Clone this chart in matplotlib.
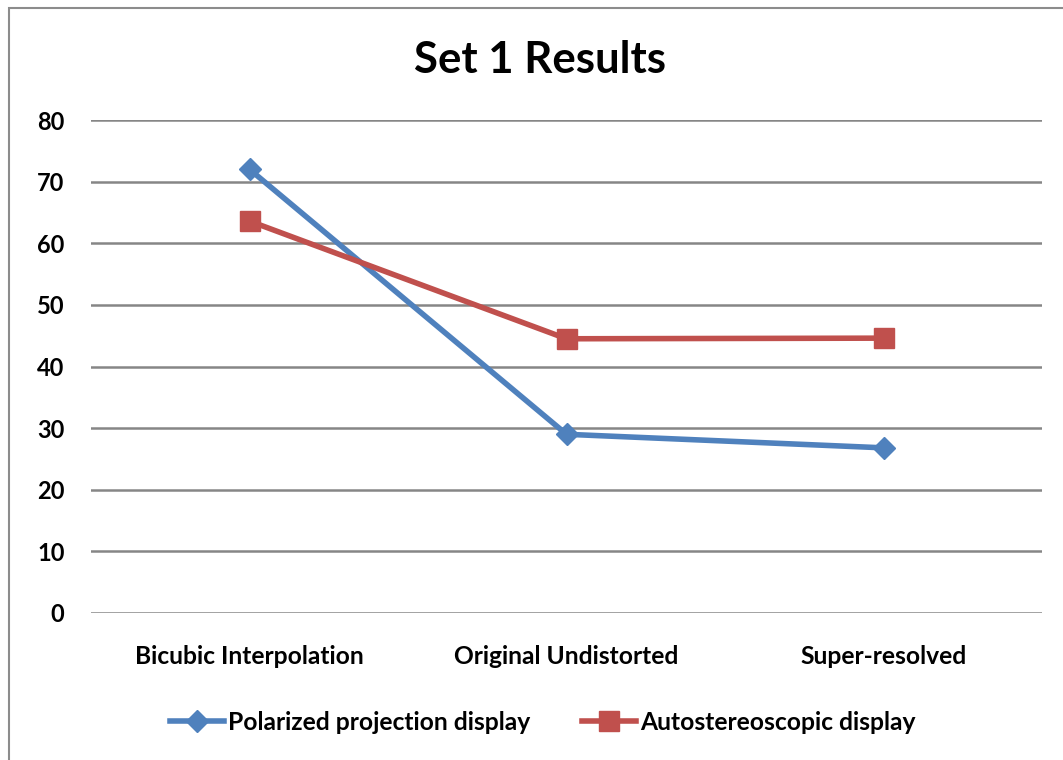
import matplotlib
matplotlib.use("Agg")
import matplotlib.pyplot as plt
from matplotlib.patches import Rectangle

categories = ["Bicubic Interpolation", "Original Undistorted", "Super-resolved"]
polarized = [72, 29, 26.8]
autostereo = [63.6, 44.5, 44.6]
yticks = [0, 10, 20, 30, 40, 50, 60, 70, 80]

plt.rcParams['font.family'] = ['Lato', 'DejaVu Sans']
plt.rcParams['font.weight'] = 'bold'

W, H = 1063, 760
fig = plt.figure(figsize=(W / 100, H / 100), dpi=100)

# outer chart frame
fig.patches.append(Rectangle((9 / W, -0.1), 1.2, 1 - 8 / H + 0.1, transform=fig.transFigure,
                             fill=False, edgecolor='#8c8c8c', linewidth=1.5))

ax = fig.add_axes([91 / W, 1 - 613 / H, (1042 - 91) / W, (613 - 120) / H])
x = range(len(categories))
ax.plot(x, polarized, color='#4F81BD', linewidth=4, marker='D', markersize=11,
        label='Polarized projection display', zorder=3)
ax.plot(x, autostereo, color='#C0504D', linewidth=4, marker='s', markersize=14,
        label='Autostereoscopic display', zorder=3)

ax.set_xlim(-0.5, 2.5)
ax.set_ylim(0, 80)
ax.set_yticks(yticks)
ax.set_xticks(list(x))
ax.set_xticklabels(categories)
ax.tick_params(axis='y', length=0, labelsize=17, pad=19)
ax.tick_params(axis='x', length=0, labelsize=17.7, pad=23)
for s in ax.spines.values():
    s.set_visible(False)
ax.yaxis.grid(True, color='#868686', linewidth=1.8)
ax.set_axisbelow(True)

fig.text(540 / W, 1 - 60 / H, "Set 1 Results", ha='center', va='center', fontsize=31.5, fontweight='bold')

fig.legend(loc='center', bbox_to_anchor=(543 / W, 1 - 722 / H), ncol=2, frameon=False,
           fontsize=17.7, handlelength=2.2, handletextpad=0.16, columnspacing=2.1)

fig.savefig("out.png", dpi=100)
